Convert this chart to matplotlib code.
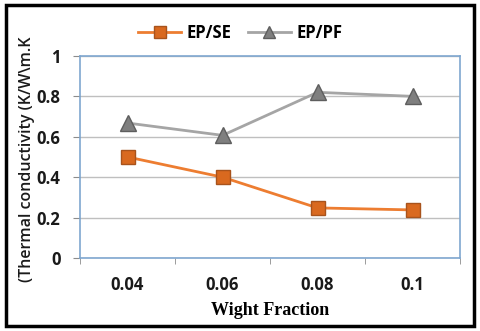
import matplotlib.pyplot as plt
from matplotlib.patches import Rectangle
import numpy as np

fractions = ['0.04', '0.06', '0.08', '0.1']
ep_se = [0.50, 0.40, 0.248, 0.238]
ep_pf = [0.668, 0.607, 0.82, 0.80]

fig = plt.figure(figsize=(4.8, 3.31), dpi=100)
ax = fig.add_axes([0.1667, 0.2205, 0.7917, 0.6105])

x = np.arange(len(fractions))
ax.plot(x, ep_se, color='#ED7D31', lw=2, marker='s', ms=10,
        mfc='#D9691F', mec='#A8531C', mew=1, label='EP/SE')
ax.plot(x, ep_pf, color='#A5A5A5', lw=2, marker='^', ms=11,
        mfc='#7F7F7F', mec='#5E5E5E', mew=1, label='EP/PF')

ax.set_xlim(-0.5, 3.5)
ax.set_ylim(0, 1)
ax.set_yticks(np.arange(0, 1.01, 0.2))
ax.set_yticklabels(['0', '0.2', '0.4', '0.6', '0.8', '1'])
ax.set_xticks(x)
ax.set_xticklabels(fractions)
ax.set_xticks(np.arange(-0.5, 3.6, 1), minor=True)
ax.tick_params(axis='x', which='major', length=0, pad=13)
ax.tick_params(axis='x', which='minor', length=4, color='#8C8C8C')
ax.tick_params(axis='y', length=5, color='#8C8C8C', pad=9)
for lab in ax.get_xticklabels() + ax.get_yticklabels():
    lab.set_fontfamily('Open Sans')
    lab.set_fontweight('bold')
    lab.set_fontsize(12)
    lab.set_color('#1A1A1A')

ax.yaxis.grid(True, color='#BFBFBF', lw=1)
ax.set_axisbelow(True)
for s in ax.spines.values():
    s.set_color('#7FA7D0')
    s.set_linewidth(1.2)

ax.set_xlabel('Wight Fraction', family='Liberation Serif', fontweight='bold',
              fontsize=13, labelpad=6)
fig.text(0.057, 0.52, '(Thermal conductivity (K/W\\m.K', rotation=90,
         family='Open Sans', fontsize=11.5, fontweight='semibold',
         ha='center', va='center', color='#1A1A1A')

leg = fig.legend(loc='center', bbox_to_anchor=(0.5, 0.9), ncol=2, frameon=False,
                 prop={'family': 'Open Sans', 'weight': 'bold', 'size': 12},
                 handlelength=2.6, columnspacing=1.0, handletextpad=0.3,
                 markerscale=0.8)

fig.patches.append(Rectangle((0.012, 0.015), 0.975, 0.97, transform=fig.transFigure,
                             fill=False, ec='black', lw=2.5))

fig.savefig('out.png', dpi=100)
